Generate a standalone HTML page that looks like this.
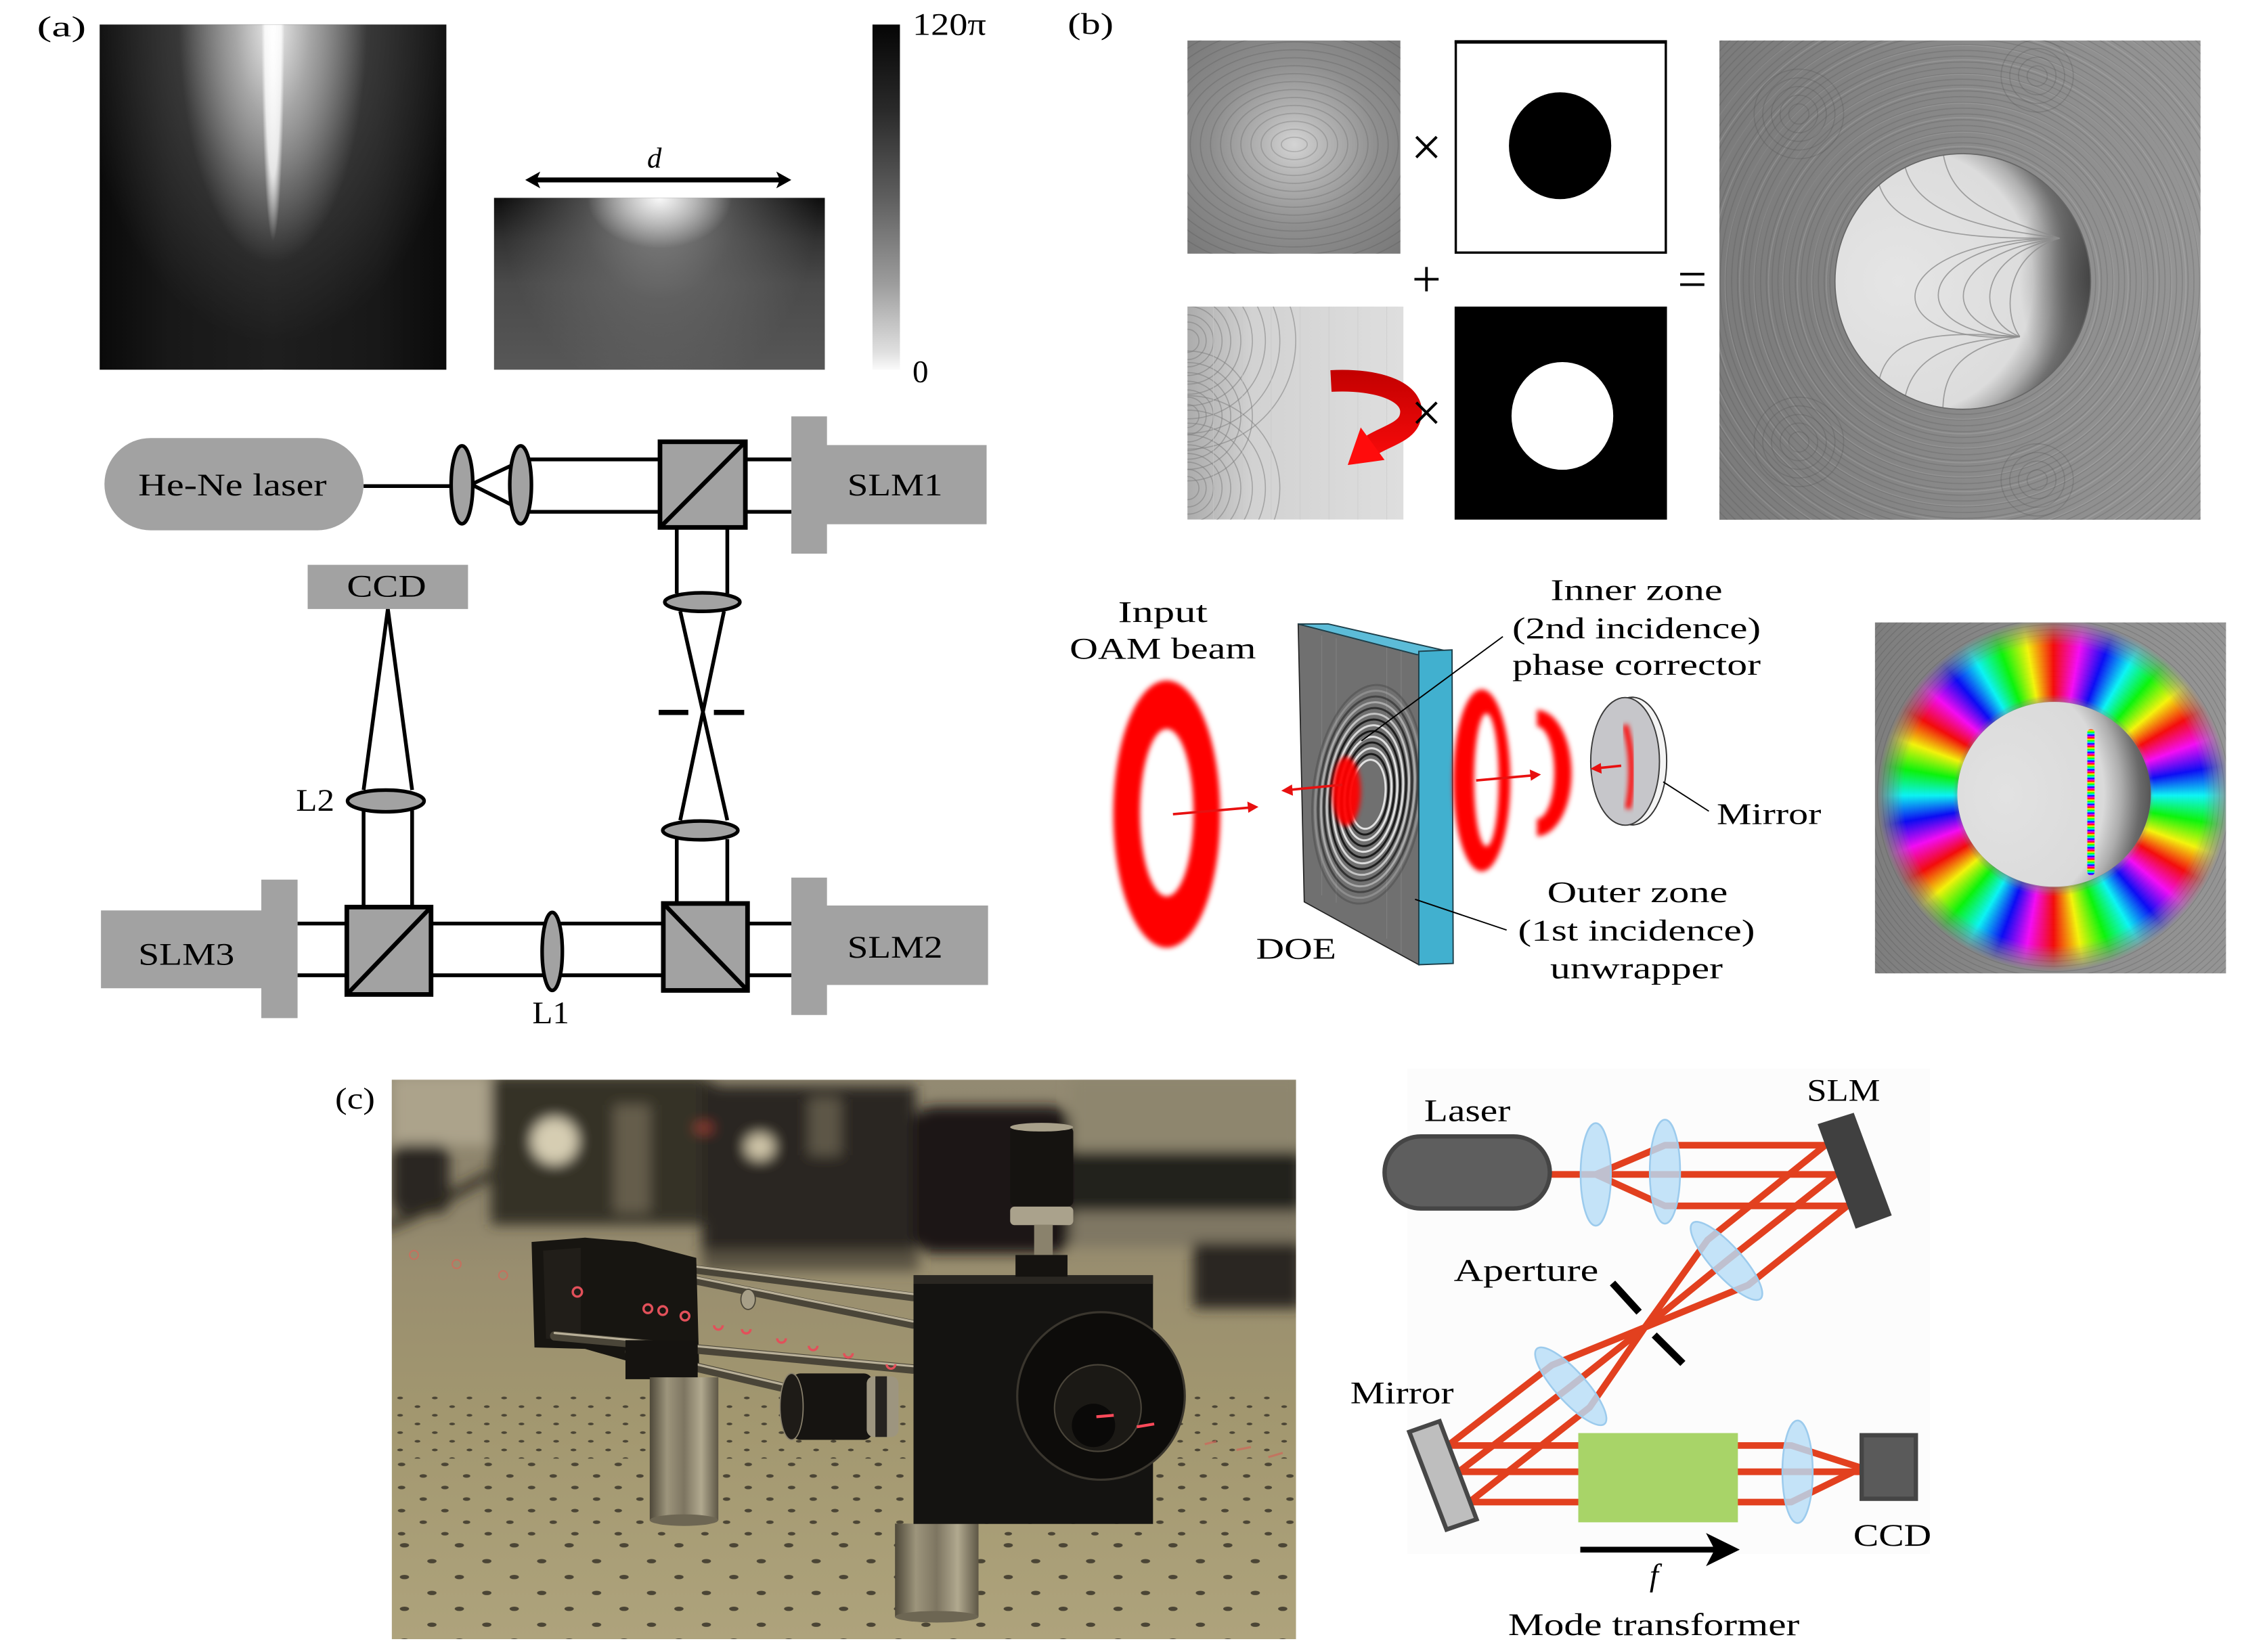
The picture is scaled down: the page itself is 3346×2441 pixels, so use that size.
<!DOCTYPE html>
<html><head><meta charset="utf-8">
<style>
html,body{margin:0;padding:0;background:#fff;}
body{width:3346px;height:2441px;overflow:hidden;position:relative;}
#r{position:absolute;left:0;top:0;width:1568px;height:1144px;transform:scale(2.13393);transform-origin:0 0;overflow:hidden;background:#fff;}
.a{position:absolute;}
svg text{font-family:"Liberation Serif","DejaVu Serif",serif;fill:#000;}
</style></head><body>
<div id="r">

<!-- (a) left phase image -->
<div class="a" style="left:69px;top:16.9px;width:240px;height:239.5px;background:
radial-gradient(ellipse 8px 150px at 50% 0%, rgba(255,255,255,1) 0%, rgba(255,255,255,.8) 70%, rgba(255,255,255,0) 100%),
radial-gradient(ellipse 65px 165px at 50% 0%, rgba(235,235,235,1) 0%, rgba(185,185,185,.8) 40%, rgba(150,150,150,0) 100%),
radial-gradient(ellipse 135px 220px at 50% 0%, rgba(115,115,115,.95) 0%, rgba(80,80,80,.55) 50%, rgba(40,40,40,0) 100%),
linear-gradient(to right,#0a0a0a 0%,#181818 20%,#1e1e1e 50%,#181818 80%,#0a0a0a 100%);"></div>

<!-- (a) right phase image -->
<div class="a" style="left:341.7px;top:136.6px;width:229.8px;height:119.8px;background:
radial-gradient(ellipse 50px 35px at 50% 0%, rgba(255,255,255,.95) 0%, rgba(230,230,230,.6) 50%, rgba(200,200,200,0) 100%),
radial-gradient(ellipse 110px 140px at 50% 0%, rgba(150,150,150,.9) 0%, rgba(110,110,110,.6) 50%, rgba(90,90,90,0) 100%),
linear-gradient(to bottom,#0e0e0e 0%,#333 25%,#4a4a4a 50%,#575757 100%);"></div>

<!-- colorbar -->
<div class="a" style="left:603.7px;top:17px;width:19.1px;height:239.4px;background:linear-gradient(to bottom,#050505 0%,#2a2a2a 25%,#5e5e5e 50%,#9c9c9c 75%,#e0e0e0 95%,#fafafa 100%);"></div>

<svg class="a" style="left:0;top:0" width="1568" height="1144" viewBox="0 0 1568 1144" xmlns="http://www.w3.org/2000/svg">
<defs>
  <clipPath id="cTL"><rect x="822" y="28" width="147.5" height="147.7"/></clipPath>
  <clipPath id="cBL"><rect x="822" y="212.3" width="149.6" height="147.5"/></clipPath>
  <clipPath id="cBig"><rect x="1190.3" y="28" width="333.1" height="331.9"/></clipPath>
  <clipPath id="cInner"><circle cx="1358.8" cy="194.9" r="88.5"/></clipPath>
  <clipPath id="cDoe"><polygon points="898.7,432.1 982.2,451 982.2,668 902.9,624.5"/></clipPath>
  <clipPath id="cPhoto"><rect x="271.2" y="747.6" width="626" height="387.4"/></clipPath>
  <radialGradient id="gTL" gradientUnits="userSpaceOnUse" cx="896" cy="100" r="115">
    <stop offset="0" stop-color="#d4d4d4"/><stop offset=".2" stop-color="#b4b4b4"/><stop offset=".5" stop-color="#8e8e8e"/><stop offset="1" stop-color="#747474"/>
  </radialGradient>
  <linearGradient id="gBL" x1="0" y1="0" x2="1" y2="0">
    <stop offset="0" stop-color="#acacac"/><stop offset=".3" stop-color="#d2d2d2"/><stop offset="1" stop-color="#dedede"/>
  </linearGradient>
  <linearGradient id="gBig" x1="0" y1="0" x2="1" y2="0">
    <stop offset="0" stop-color="#7b7b7b"/><stop offset=".6" stop-color="#8c8c8c"/><stop offset="1" stop-color="#959595"/>
  </linearGradient>
  <radialGradient id="gInner" cx=".25" cy=".5" r=".75">
    <stop offset="0" stop-color="#e5e5e5"/><stop offset=".7" stop-color="#dcdcdc"/><stop offset=".8" stop-color="#b0b0b0"/><stop offset=".9" stop-color="#707070"/><stop offset="1" stop-color="#4e4e4e"/>
  </radialGradient>
  <radialGradient id="gCres" gradientUnits="userSpaceOnUse" cx="1452" cy="192" r="60" gradientTransform="translate(1452 192) scale(0.9 1.5) translate(-1452 -192)">
    <stop offset="0" stop-color="#3e3e3e" stop-opacity=".95"/><stop offset=".5" stop-color="#5a5a5a" stop-opacity=".6"/><stop offset="1" stop-color="#777" stop-opacity="0"/>
  </radialGradient>
  <linearGradient id="gArrow" gradientUnits="userSpaceOnUse" x1="0" y1="256" x2="0" y2="325">
    <stop offset="0" stop-color="#c20000"/><stop offset="1" stop-color="#ff0c0c"/>
  </linearGradient>
  <filter id="fb" x="-30%" y="-30%" width="160%" height="160%"><feGaussianBlur stdDeviation="1.8"/></filter>
  <filter id="fbl" x="-10%" y="-10%" width="120%" height="120%"><feGaussianBlur stdDeviation="4.5"/></filter>
  <linearGradient id="gPhoto" x1="0" y1="0" x2="0" y2="1">
    <stop offset="0" stop-color="#938a72"/><stop offset=".2" stop-color="#8c836b"/><stop offset=".34" stop-color="#998e6f"/><stop offset=".6" stop-color="#a2976f"/><stop offset="1" stop-color="#aea37c"/>
  </linearGradient>
  <linearGradient id="gPost" x1="0" y1="0" x2="1" y2="0">
    <stop offset="0" stop-color="#4e4839"/><stop offset=".25" stop-color="#9d957c"/><stop offset=".5" stop-color="#7d7561"/><stop offset=".75" stop-color="#b1a98f"/><stop offset="1" stop-color="#5e5746"/>
  </linearGradient>
  <pattern id="h1" patternUnits="userSpaceOnUse" x="271" y="965" width="24" height="12">
    <ellipse cx="6" cy="3" rx="2" ry=".9" fill="#4b4535"/><ellipse cx="18" cy="9" rx="2" ry=".9" fill="#4b4535"/>
  </pattern>
  <pattern id="h2" patternUnits="userSpaceOnUse" x="271" y="1010" width="30" height="16">
    <ellipse cx="7" cy="4" rx="2.6" ry="1.2" fill="#4b4535"/><ellipse cx="22" cy="12" rx="2.6" ry="1.2" fill="#4b4535"/>
  </pattern>
  <pattern id="h3" patternUnits="userSpaceOnUse" x="271" y="1065" width="38" height="22">
    <ellipse cx="9" cy="5" rx="3.2" ry="1.5" fill="#4b4535"/><ellipse cx="28" cy="16" rx="3.2" ry="1.5" fill="#4b4535"/>
  </pattern>
</defs>

<!-- ================= (a) ================= -->
<text x="42.6" y="25" font-size="20" text-anchor="middle" textLength="34" lengthAdjust="spacingAndGlyphs">(a)</text>
<text x="631.7" y="24.2" font-size="22" textLength="51" lengthAdjust="spacingAndGlyphs">120π</text>
<text x="631.7" y="264.5" font-size="22">0</text>
<text x="453" y="116" font-size="20" font-style="italic" text-anchor="middle">d</text>
<line x1="371" y1="124.6" x2="540" y2="124.6" stroke="#000" stroke-width="3.4"/>
<polygon points="363.6,124.6 374,118.8 371.5,124.6 374,130.4" fill="#000"/>
<polygon points="547.8,124.6 537.4,118.8 539.9,124.6 537.4,130.4" fill="#000"/>

<!-- schematic lines -->
<g stroke="#000" stroke-width="2.6" fill="none">
  <path d="M251.7,336.6 H313"/>
  <path d="M326.3,335.4 L359,320 M326.3,335.4 L359,352"/>
  <path d="M366,318.1 H457 M366,354.4 H457"/>
  <path d="M516,318.1 H548 M516,354.4 H548"/>
  <path d="M468.5,365.2 V411 M503.5,365.2 V411"/>
  <path d="M470.9,423.2 L503.5,568 M501.2,423.2 L470.9,568"/>
  <path d="M468.5,581 V625.6 M503.5,581 V625.6"/>
  <path d="M517.5,639.5 H548 M517.5,675.3 H548"/>
  <path d="M298.4,639.5 H459.2 M298.4,675.3 H459.2"/>
  <path d="M206,639.5 H240.1 M206,675.3 H240.1"/>
  <path d="M251.7,628.1 V561 M285.3,628.1 V561"/>
  <path d="M251.7,547 L268.5,421.7 L285.3,547"/>
</g>
<path d="M456,493.3 H476.5 M494.2,493.3 H515.2" stroke="#000" stroke-width="3.6"/>

<!-- schematic shapes -->
<rect x="72.3" y="303.3" width="179.4" height="63.9" rx="32" ry="32" fill="#a2a2a2"/>
<rect x="213" y="391.1" width="111" height="30.6" fill="#a2a2a2"/>
<path d="M547.8,288.3 H572.5 V308.2 H683 V363 H572.5 V383.4 H547.8 Z" fill="#a2a2a2"/>
<path d="M547.8,607.7 H572.5 V627 H684 V682 H572.5 V702.8 H547.8 Z" fill="#a2a2a2"/>
<path d="M69.9,630.4 H180.9 V609.1 H206 V705 H180.9 V684.3 H69.9 Z" fill="#a2a2a2"/>
<g fill="#a2a2a2" stroke="#000" stroke-width="2.5">
  <ellipse cx="319.8" cy="335.7" rx="7.5" ry="27"/>
  <ellipse cx="360.4" cy="335.7" rx="7.5" ry="27"/>
  <ellipse cx="486.2" cy="416.9" rx="26" ry="6.4"/>
  <ellipse cx="484.8" cy="575" rx="26" ry="6.5"/>
  <ellipse cx="382.3" cy="658.8" rx="7" ry="27"/>
  <ellipse cx="267.1" cy="554.6" rx="26.5" ry="7.5"/>
</g>
<g fill="#a2a2a2" stroke="#000" stroke-width="3.2">
  <rect x="456.9" y="305.9" width="59.1" height="59.3"/>
  <rect x="459.2" y="625.6" width="58.3" height="60.2"/>
  <rect x="240.1" y="628.1" width="58.3" height="60.5"/>
</g>
<g stroke="#000" stroke-width="3">
  <line x1="456.9" y1="365.2" x2="516" y2="305.9"/>
  <line x1="459.2" y1="625.6" x2="517.5" y2="685.8"/>
  <line x1="240.1" y1="688.6" x2="298.4" y2="628.1"/>
</g>
<g font-size="22" text-anchor="middle">
  <text x="160.9" y="343" textLength="130.5" lengthAdjust="spacingAndGlyphs">He-Ne laser</text>
  <text x="619.6" y="343" textLength="66" lengthAdjust="spacingAndGlyphs">SLM1</text>
  <text x="267.6" y="413.2" textLength="55" lengthAdjust="spacingAndGlyphs">CCD</text>
  <text x="218.2" y="561.4" textLength="26.6" lengthAdjust="spacingAndGlyphs">L2</text>
  <text x="381.3" y="708.5" textLength="25.6" lengthAdjust="spacingAndGlyphs">L1</text>
  <text x="129" y="668" textLength="66.6" lengthAdjust="spacingAndGlyphs">SLM3</text>
  <text x="619.6" y="663" textLength="66" lengthAdjust="spacingAndGlyphs">SLM2</text>
</g>

<!-- ================= (b) top ================= -->
<text x="755" y="23.5" font-size="21" text-anchor="middle" textLength="31.7" lengthAdjust="spacingAndGlyphs">(b)</text>

<!-- TL image -->
<g clip-path="url(#cTL)">
  <rect x="822" y="28" width="147.5" height="147.7" fill="url(#gTL)"/>
  <g fill="none" stroke="#4a4a4a" stroke-opacity=".24" stroke-width=".8">
    <ellipse cx="896" cy="100" rx="9" ry="5"/><ellipse cx="896" cy="100" rx="16" ry="10.5"/>
    <ellipse cx="896" cy="100" rx="23" ry="16"/><ellipse cx="896" cy="100" rx="30" ry="21.5"/>
    <ellipse cx="896" cy="100" rx="37" ry="27"/><ellipse cx="896" cy="100" rx="44" ry="32.5"/>
    <ellipse cx="896" cy="100" rx="51" ry="38"/><ellipse cx="896" cy="100" rx="58" ry="43.5"/>
    <ellipse cx="896" cy="100" rx="65" ry="49"/><ellipse cx="896" cy="100" rx="72" ry="54.5"/>
    <ellipse cx="896" cy="100" rx="79" ry="60"/><ellipse cx="896" cy="100" rx="86" ry="65.5"/>
    <ellipse cx="896" cy="100" rx="93" ry="71"/><ellipse cx="896" cy="100" rx="100" ry="76.5"/>
    <ellipse cx="896" cy="100" rx="107" ry="82"/><ellipse cx="896" cy="100" rx="114" ry="87.5"/>
  </g>
</g>
<!-- TM mask -->
<rect x="1007.8" y="28.8" width="145.4" height="146.1" fill="#fff" stroke="#000" stroke-width="1.6"/>
<line x1="1007" y1="29" x2="1154" y2="29" stroke="#000" stroke-width="2.4"/>
<ellipse cx="1080" cy="100.9" rx="35.4" ry="37" fill="#000"/>
<!-- BL image -->
<g clip-path="url(#cBL)">
  <rect x="822" y="212.3" width="149.6" height="147.5" fill="url(#gBL)"/>
  <g fill="none" stroke="#7e7e7e" stroke-opacity=".55" stroke-width=".75">
    <path d="M822,228 A8,8 0 0 1 822,244 M822,223 A13,13 0 0 1 822,249 M822,218 A18,18 0 0 1 822,254 M822,212 A24,24 0 0 1 822,260 M822,206 A30,30 0 0 1 822,266 M822,199 A37,37 0 0 1 822,273 M822,191 A45,45 0 0 1 822,281 M822,182 A54,54 0 0 1 822,290 M822,172 A64,64 0 0 1 822,300 M822,161 A75,75 0 0 1 822,311"/>
    <path d="M822,280 A8,8 0 0 1 822,296 M822,275 A13,13 0 0 1 822,301 M822,270 A18,18 0 0 1 822,306 M822,264 A24,24 0 0 1 822,312 M822,258 A30,30 0 0 1 822,318 M822,251 A37,37 0 0 1 822,325 M822,243 A45,45 0 0 1 822,333"/>
    <path d="M822,330 A8,8 0 0 1 822,346 M822,325 A13,13 0 0 1 822,351 M822,320 A18,18 0 0 1 822,356 M822,314 A24,24 0 0 1 822,362 M822,308 A30,30 0 0 1 822,368 M822,301 A37,37 0 0 1 822,375 M822,293 A45,45 0 0 1 822,383 M822,284 A54,54 0 0 1 822,392 M822,274 A64,64 0 0 1 822,402"/>
  </g>
  <g stroke="#c8c8c8" stroke-width=".5" opacity=".6">
    <path d="M840,212 V360 M860,212 V360 M880,212 V360 M900,212 V360 M920,212 V360 M940,212 V360 M960,212 V360"/>
  </g>
</g>
<!-- red curved arrow -->
<path d="M921.4,263.8 C955,262 982,272 976,290 C973,299 960,302 950,308" fill="none" stroke="url(#gArrow)" stroke-width="15"/>
<polygon points="933,322 958.5,318.5 942,296" fill="#ff0c0c"/>
<!-- BM mask -->
<rect x="1007" y="212.3" width="147" height="147.5" fill="#000"/>
<ellipse cx="1081.6" cy="288" rx="35.2" ry="37.3" fill="#fff"/>
<!-- operators -->
<g text-anchor="middle">
  <text x="987.5" y="114.5" font-size="38">×</text>
  <text x="987.5" y="298.5" font-size="38">×</text>
  <text x="987.5" y="205.5" font-size="36">+</text>
  <text x="1171.5" y="205.5" font-size="36">=</text>
</g>
<!-- big image -->
<g clip-path="url(#cBig)">
  <rect x="1190.3" y="28" width="333.1" height="331.9" fill="url(#gBig)"/>
  <g fill="none" stroke="#4e4e4e" stroke-opacity=".22" stroke-width=".8">
    <circle cx="1358.8" cy="194.9" r="92"/><circle cx="1358.8" cy="194.9" r="96"/><circle cx="1358.8" cy="194.9" r="100"/><circle cx="1358.8" cy="194.9" r="104"/>
    <circle cx="1358.8" cy="194.9" r="108"/><circle cx="1358.8" cy="194.9" r="112"/><circle cx="1358.8" cy="194.9" r="116"/><circle cx="1358.8" cy="194.9" r="120"/>
    <circle cx="1358.8" cy="194.9" r="124"/><circle cx="1358.8" cy="194.9" r="128"/><circle cx="1358.8" cy="194.9" r="132"/><circle cx="1358.8" cy="194.9" r="136"/>
    <circle cx="1358.8" cy="194.9" r="140"/><circle cx="1358.8" cy="194.9" r="144"/><circle cx="1358.8" cy="194.9" r="148"/><circle cx="1358.8" cy="194.9" r="152"/>
    <circle cx="1358.8" cy="194.9" r="156"/><circle cx="1358.8" cy="194.9" r="160"/><circle cx="1358.8" cy="194.9" r="164"/><circle cx="1358.8" cy="194.9" r="168"/>
    <circle cx="1358.8" cy="194.9" r="172"/><circle cx="1358.8" cy="194.9" r="176"/><circle cx="1358.8" cy="194.9" r="180"/><circle cx="1358.8" cy="194.9" r="184"/>
    <circle cx="1358.8" cy="194.9" r="188"/><circle cx="1358.8" cy="194.9" r="192"/><circle cx="1358.8" cy="194.9" r="196"/><circle cx="1358.8" cy="194.9" r="200"/>
    <circle cx="1358.8" cy="194.9" r="204"/><circle cx="1358.8" cy="194.9" r="208"/><circle cx="1358.8" cy="194.9" r="212"/><circle cx="1358.8" cy="194.9" r="216"/>
    <circle cx="1358.8" cy="194.9" r="220"/><circle cx="1358.8" cy="194.9" r="224"/><circle cx="1358.8" cy="194.9" r="228"/><circle cx="1358.8" cy="194.9" r="232"/><circle cx="1358.8" cy="194.9" r="236"/>
  </g>
  <g fill="none" stroke="#d0d0d0" stroke-opacity=".18" stroke-width=".8">
    <circle cx="1358.8" cy="195.9" r="94.5"/><circle cx="1358.8" cy="195.9" r="104.5"/><circle cx="1358.8" cy="195.9" r="114.5"/><circle cx="1358.8" cy="195.9" r="124.5"/>
    <circle cx="1358.8" cy="195.9" r="134.5"/><circle cx="1358.8" cy="195.9" r="144.5"/><circle cx="1358.8" cy="195.9" r="154.5"/><circle cx="1358.8" cy="195.9" r="164.5"/>
    <circle cx="1358.8" cy="195.9" r="174.5"/><circle cx="1358.8" cy="195.9" r="184.5"/><circle cx="1358.8" cy="195.9" r="194.5"/><circle cx="1358.8" cy="195.9" r="204.5"/>
  </g>
  <g fill="none" stroke="#505050" stroke-opacity=".25" stroke-width=".8">
    <circle cx="1245.3" cy="78.9" r="7"/><circle cx="1245.3" cy="78.9" r="13"/><circle cx="1245.3" cy="78.9" r="19"/><circle cx="1245.3" cy="78.9" r="25"/><circle cx="1245.3" cy="78.9" r="31"/>
    <circle cx="1410.3" cy="52.6" r="7"/><circle cx="1410.3" cy="52.6" r="13"/><circle cx="1410.3" cy="52.6" r="19"/><circle cx="1410.3" cy="52.6" r="25"/>
    <circle cx="1245.3" cy="306" r="7"/><circle cx="1245.3" cy="306" r="13"/><circle cx="1245.3" cy="306" r="19"/><circle cx="1245.3" cy="306" r="25"/><circle cx="1245.3" cy="306" r="31"/>
    <circle cx="1410.3" cy="332.3" r="7"/><circle cx="1410.3" cy="332.3" r="13"/><circle cx="1410.3" cy="332.3" r="19"/><circle cx="1410.3" cy="332.3" r="25"/>
  </g>
  <circle cx="1358.8" cy="194.9" r="88.5" fill="url(#gInner)"/>
  <g clip-path="url(#cInner)">
    <rect x="1380" y="100" width="80" height="190" fill="url(#gCres)"/>
  </g>
  <g clip-path="url(#cInner)" fill="none" stroke="#8c8c8c" stroke-width=".8" stroke-opacity=".8">
    <path d="M1425.8,165 C1380,150 1350,140 1345,105"/>
    <path d="M1425.8,165 C1375,158 1325,150 1318,112"/>
    <path d="M1425.8,165 C1370,165 1310,165 1300,125"/>
    <path d="M1398.3,233.1 C1360,240 1345,255 1345,285"/>
    <path d="M1398.3,233.1 C1355,235 1322,245 1318,280"/>
    <path d="M1398.3,233.1 C1350,230 1305,228 1300,268"/>
    <path d="M1425.8,165 C1390,175 1385,215 1398.3,233.1"/>
    <path d="M1425.8,165 C1370,175 1365,220 1398.3,233.1"/>
    <path d="M1425.8,165 C1345,175 1340,225 1398.3,233.1"/>
    <path d="M1425.8,165 C1320,170 1318,232 1398.3,233.1"/>
    <path d="M1425.8,165 C1300,165 1295,240 1398.3,233.1"/>
  </g>
  <circle cx="1358.8" cy="194.9" r="88.5" fill="none" stroke="#666" stroke-width=".8"/>
</g>

<!-- ================= (b) middle ================= -->
<g font-size="21" text-anchor="middle">
  <text x="805" y="430.7" textLength="62" lengthAdjust="spacingAndGlyphs">Input</text>
  <text x="805" y="456" textLength="129" lengthAdjust="spacingAndGlyphs">OAM beam</text>
  <text x="1132.9" y="415.4" textLength="119" lengthAdjust="spacingAndGlyphs">Inner zone</text>
  <text x="1132.9" y="441.8" textLength="172" lengthAdjust="spacingAndGlyphs">(2nd incidence)</text>
  <text x="1132.9" y="467.2" textLength="172" lengthAdjust="spacingAndGlyphs">phase corrector</text>
  <text x="1224.6" y="570.5" textLength="72.4" lengthAdjust="spacingAndGlyphs">Mirror</text>
  <text x="1133.6" y="624.7" textLength="125" lengthAdjust="spacingAndGlyphs">Outer zone</text>
  <text x="1132.9" y="651.1" textLength="164" lengthAdjust="spacingAndGlyphs">(1st incidence)</text>
  <text x="1132.9" y="677.5" textLength="119.5" lengthAdjust="spacingAndGlyphs">unwrapper</text>
  <text x="897.3" y="663.7" textLength="55.5" lengthAdjust="spacingAndGlyphs">DOE</text>
</g>
<!-- red ring 1 -->
<path d="M770.7,563.7 a37,92.5 0 1,0 74,0 a37,92.5 0 1,0 -74,0 Z M789.2,562.7 a18.5,58 0 1,0 37,0 a18.5,58 0 1,0 -37,0 Z" fill="#ff0000" fill-rule="evenodd" filter="url(#fb)"/>
<!-- DOE -->
<polygon points="898.7,432.1 982.2,451 982.2,668 902.9,624.5" fill="#707070"/>
<g clip-path="url(#cDoe)" fill="none">
  <g stroke="#8c8c8c" stroke-width=".6" opacity=".5">
    <path d="M915,440 V620 M925,442 V625 M960,447 V650 M970,449 V660"/>
  </g>
  <g transform="rotate(6 947 550)" stroke-width="1.4" opacity=".9">
    <ellipse cx="947" cy="550" rx="12" ry="24" stroke="#eee"/><ellipse cx="947" cy="550" rx="14" ry="28" stroke="#111"/>
    <ellipse cx="947" cy="550" rx="16" ry="32" stroke="#eee"/><ellipse cx="947" cy="550" rx="18" ry="36" stroke="#111"/>
    <ellipse cx="947" cy="550" rx="20" ry="40" stroke="#eee"/><ellipse cx="947" cy="550" rx="22" ry="44" stroke="#111"/>
    <ellipse cx="947" cy="550" rx="24" ry="48" stroke="#e6e6e6"/><ellipse cx="947" cy="550" rx="26" ry="52" stroke="#151515"/>
    <ellipse cx="947" cy="550" rx="28" ry="56" stroke="#ddd" opacity=".85"/><ellipse cx="947" cy="550" rx="30" ry="60" stroke="#1a1a1a" opacity=".8"/>
    <ellipse cx="947" cy="550" rx="32" ry="64" stroke="#ccc" opacity=".7"/><ellipse cx="947" cy="550" rx="34" ry="68" stroke="#222" opacity=".6"/>
    <ellipse cx="947" cy="550" rx="36" ry="72" stroke="#bbb" opacity=".45"/><ellipse cx="947" cy="550" rx="38" ry="76" stroke="#333" opacity=".35"/>
  </g>
  <ellipse cx="932" cy="548" rx="10" ry="24" fill="#ff0000" stroke="none" filter="url(#fb)" opacity=".95"/>
</g>
<polygon points="898.7,432.1 982.2,451 982.2,668 902.9,624.5" fill="none" stroke="#222" stroke-width=".8"/>
<polygon points="898.7,432.1 919.3,432 1005.2,451.6 981,453.3" fill="#5cbcd8" stroke="#1d3f4a" stroke-width=".9"/>
<polygon points="982.2,451 1005.2,450 1006,667.1 982.2,668" fill="#41b0cf" stroke="#1d3f4a" stroke-width=".9"/>
<!-- ring 2 & arc 3 -->
<path d="M1006,540.4 a19.8,63 0 1,0 39.6,0 a19.8,63 0 1,0 -39.6,0 Z M1020.5,540 a8.5,46 0 1,0 17,0 a8.5,46 0 1,0 -17,0 Z" fill="#ff0000" fill-rule="evenodd" filter="url(#fb)"/>
<path d="M1064,491.6 A24,43.7 0 0 1 1064,579 L1064,567 A12,32 0 0 0 1064,503 Z" fill="#ff0000" filter="url(#fb)"/>
<!-- mirror (b) -->
<ellipse cx="1130" cy="527" rx="23.8" ry="44.2" fill="#f4f4f4" stroke="#333" stroke-width=".9"/>
<ellipse cx="1125" cy="527.2" rx="23.8" ry="44.2" fill="#c6c6ca" stroke="#3a3a3a" stroke-width=".9"/>
<path d="M1125,502 Q1133,530 1127,560" fill="none" stroke="#ff0000" stroke-width="4" filter="url(#fb)"/>
<!-- red arrows -->
<g stroke="#e81010" stroke-width="1.7" fill="none">
  <line x1="812" y1="563.8" x2="865" y2="559.2"/>
  <line x1="929.3" y1="543.4" x2="893" y2="546.9"/>
  <line x1="1021.9" y1="540.4" x2="1060" y2="537"/>
  <line x1="1122.3" y1="530.2" x2="1107" y2="531.8"/>
</g>
<g fill="#e81010">
  <polygon points="871.2,558.7 863.5,555 864.2,562.8"/>
  <polygon points="887,547.5 894.4,543.2 895.1,551"/>
  <polygon points="1066.8,536.3 1059,532.8 1059.8,540.6"/>
  <polygon points="1101,532.3 1108.2,528.3 1108.8,535.7"/>
</g>
<!-- leaders -->
<g stroke="#000" stroke-width=".9">
  <line x1="1040.4" y1="440.8" x2="942.5" y2="513"/>
  <line x1="1043" y1="644" x2="979.6" y2="622.7"/>
  <line x1="1151.4" y1="541.4" x2="1183" y2="561.7"/>
</g>

<!-- ================= (c) ================= -->
<text x="245.8" y="767.6" font-size="21" text-anchor="middle" textLength="27.6" lengthAdjust="spacingAndGlyphs">(c)</text>

<!-- photo -->
<g clip-path="url(#cPhoto)">
  <rect x="271.2" y="747.6" width="626" height="387.4" fill="url(#gPhoto)"/>
  <g filter="url(#fbl)">
    <rect x="271" y="745" width="70" height="48" fill="#aca38b"/>
    <rect x="271" y="792" width="40" height="48" rx="8" fill="#2c2820"/>
    <path d="M265,850 C300,838 330,815 370,800 C410,786 450,770 495,750" stroke="#2a261e" stroke-width="6" fill="none"/>
    <rect x="340" y="745" width="148" height="103" fill="#353026"/>
    <ellipse cx="384" cy="790" rx="16" ry="16" fill="#d6cdb2"/>
    <rect x="425" y="765" width="25" height="75" fill="#655d4b"/>
    <rect x="486" y="752" width="148" height="115" fill="#2c2821"/>
    <ellipse cx="526" cy="794" rx="10" ry="9" fill="#cfc5a8"/>
    <rect x="560" y="760" width="22" height="40" fill="#5d5646"/>
    <rect x="632" y="766" width="110" height="102" rx="15" fill="#1c1915"/>
    <rect x="741" y="745" width="160" height="53" fill="#8e866e"/>
    <rect x="741" y="797" width="160" height="42" fill="#24211b"/>
    <rect x="741" y="839" width="160" height="24" fill="#7f7763"/>
    <rect x="826" y="860" width="75" height="46" fill="#2a2621"/>
    <rect x="486" y="866" width="150" height="14" fill="#5a5343"/>
    <ellipse cx="487" cy="781" rx="6" ry="2" fill="#c24a40"/>
  </g>
  <rect x="271" y="965" width="626" height="45" fill="url(#h1)"/>
  <rect x="271" y="1010" width="626" height="55" fill="url(#h2)"/>
  <rect x="271" y="1065" width="626" height="70" fill="url(#h3)"/>
  <!-- rods -->
  <g stroke-linecap="round">
    <line x1="379" y1="866" x2="632" y2="898" stroke="#4a4538" stroke-width="6"/>
    <line x1="379" y1="864" x2="632" y2="896" stroke="#b9b099" stroke-width="1.5"/>
    <line x1="420" y1="874" x2="632" y2="917" stroke="#4a4538" stroke-width="6"/>
    <line x1="420" y1="872" x2="632" y2="915" stroke="#b9b099" stroke-width="1.5"/>
  </g>
  <polygon points="368,860 405,857 440,860 482,871 484,946 440,944 405,934 370,933" fill="#171511"/>
  <polygon points="376,866 402,864 402,928 378,927" fill="#211e19"/>
  <g stroke-linecap="round">
    <line x1="384" y1="925" x2="632" y2="948" stroke="#4a4538" stroke-width="6.5"/>
    <line x1="384" y1="923" x2="632" y2="946" stroke="#b9b099" stroke-width="1.5"/>
    <line x1="436" y1="936" x2="548" y2="962" stroke="#4a4538" stroke-width="6.5"/>
    <line x1="436" y1="934" x2="548" y2="960" stroke="#b9b099" stroke-width="1.5"/>
  </g>
  <ellipse cx="517.9" cy="899.7" rx="5" ry="7" fill="#a79f88" stroke="#4a4538" stroke-width=".8"/>
  <rect x="433" y="928" width="50" height="27" fill="#151310"/>
  <rect x="449.8" y="953.7" width="47.5" height="98.9" fill="url(#gPost)"/>
  <ellipse cx="473.5" cy="1052.6" rx="23.7" ry="4" fill="#6d6653"/>
  <g fill="none" stroke="#e2505a" stroke-width="1.6">
    <circle cx="399.7" cy="894.6" r="3.2"/><circle cx="448.5" cy="906.2" r="3"/><circle cx="458.8" cy="907.5" r="3"/><circle cx="474.2" cy="911.3" r="3"/>
    <path d="M494.3,917.7 A3,3 0 0 0 500.3,917.7 M513.6,920.3 A3,3 0 0 0 519.6,920.3 M538,926.7 A3,3 0 0 0 544,926.7 M559.9,931.9 A3,3 0 0 0 565.9,931.9 M584.3,937 A3,3 0 0 0 590.3,937 M613.8,944.7 A3,3 0 0 0 619.8,944.7"/>
  </g>
  <g fill="none" stroke="#cf6a5a" stroke-width="1" opacity=".8">
    <circle cx="286.6" cy="868.9" r="3"/><circle cx="316.1" cy="875.3" r="3"/><circle cx="348.3" cy="883" r="3"/>
  </g>
  <!-- knob -->
  <rect x="548" y="951" width="56" height="46" rx="6" fill="#161411"/>
  <rect x="600" y="953" width="22" height="42" rx="5" fill="#9d957f"/>
  <rect x="606" y="953" width="8" height="42" fill="#262320"/>
  <ellipse cx="548" cy="974" rx="8" ry="23" fill="#1e1b17" stroke="#8a826e" stroke-width=".8"/>
  <!-- post 2 -->
  <rect x="619.6" y="1055" width="57.8" height="64.5" fill="url(#gPost)"/>
  <ellipse cx="648.5" cy="1119.5" rx="28.9" ry="4" fill="#6d6653"/>
  <!-- mount 2 -->
  <rect x="632.4" y="883" width="165.8" height="172.2" fill="#141311"/>
  <rect x="632.4" y="883" width="165.8" height="6" fill="#2a2722"/>
  <circle cx="762.2" cy="966.6" r="58" fill="#0d0c0a" stroke="#3a362e" stroke-width="1.5"/>
  <circle cx="760" cy="975" r="30" fill="#1b1915" stroke="#4a453a" stroke-width="1"/>
  <circle cx="757" cy="987" r="15" fill="#0a0908"/>
  <line x1="759" y1="981" x2="771" y2="980" stroke="#ff4a5a" stroke-width="2"/>
  <line x1="787" y1="988" x2="799" y2="986" stroke="#ff4a5a" stroke-width="2"/>
  <!-- micrometer -->
  <rect x="699.3" y="780" width="43.7" height="55.5" rx="4" fill="#151310"/>
  <ellipse cx="721.1" cy="780.5" rx="21.8" ry="3" fill="#a8a08a"/>
  <rect x="699.3" y="835.5" width="43.7" height="12.8" rx="3" fill="#aaa28c"/>
  <rect x="715.9" y="848" width="12.9" height="21" fill="#8a826c"/>
  <rect x="703" y="869" width="36" height="15" fill="#151310"/>
  <g stroke="#d0665a" stroke-width="1.5" opacity=".7">
    <line x1="834" y1="1000" x2="842" y2="998"/><line x1="856" y1="1004" x2="866" y2="1002"/><line x1="878" y1="1009" x2="888" y2="1006"/>
  </g>
</g>

<!-- (c) schematic -->
<rect x="974" y="740" width="362" height="336" fill="#fcfcfc"/>
<g stroke="#e2401f" stroke-width="4.6" fill="none" stroke-linejoin="round">
  <path d="M1072.9,813.2 H1270.9"/>
  <path d="M1104.7,813.2 L1152.6,793 H1263.6"/>
  <path d="M1104.7,813.2 L1152.6,835 H1278.9"/>
  <path d="M1263.6,793 L1182.1,858.6 L1138.7,919.1 L1100.5,974.5 L1017.2,1040.1 H1240 L1288.6,1016.4"/>
  <path d="M1270.9,813.2 L1195.2,873.1 L1138.7,919.1 L1087.4,959.9 L1009.8,1019.1 H1288.6"/>
  <path d="M1278.9,835 L1210.3,889.8 L1138.7,919.1 L1074.3,945.3 L1002.4,1000.9 H1240 L1288.6,1016.4"/>
</g>
<rect x="958.5" y="786.9" width="114.4" height="49.9" rx="25" ry="25" fill="#5e5e5e" stroke="#454545" stroke-width="3"/>
<polygon points="1258.3,778.4 1283.3,770.5 1309.6,841.6 1284.6,850.8" fill="#404040"/>
<polygon points="975.6,991.5 996.6,984.1 1022.2,1052 1001.4,1059.1" fill="#bebebe" stroke="#474747" stroke-width="3"/>
<rect x="1092.6" y="992.3" width="110.5" height="61.8" fill="#a8d468"/>
<rect x="1288.8" y="993.8" width="37.5" height="44" fill="#5a5a5a" stroke="#454545" stroke-width="3"/>
<g fill="#b7ddf7" fill-opacity=".82" stroke="#9ccbed" stroke-width="1.2">
  <ellipse cx="1104.7" cy="813.2" rx="10.5" ry="35.5"/>
  <ellipse cx="1152.6" cy="811.3" rx="10.5" ry="36"/>
  <ellipse cx="1195.2" cy="873.1" rx="35.2" ry="10.5" transform="rotate(48 1195.2 873.1)"/>
  <ellipse cx="1087.4" cy="959.9" rx="35" ry="10.5" transform="rotate(48 1087.4 959.9)"/>
  <ellipse cx="1244.4" cy="1019.1" rx="10.5" ry="35.5"/>
</g>
<g stroke="#000" stroke-width="5">
  <line x1="1116.3" y1="888.4" x2="1134.7" y2="908.6"/>
  <line x1="1145.2" y1="924.4" x2="1165" y2="944.1"/>
</g>
<line x1="1094" y1="1073" x2="1192" y2="1073" stroke="#000" stroke-width="4"/>
<polygon points="1204.4,1073 1181,1061.5 1187,1073 1181,1084.5" fill="#000"/>
<g font-size="22" text-anchor="middle">
  <text x="1015.8" y="776.3" textLength="59.7" lengthAdjust="spacingAndGlyphs">Laser</text>
  <text x="1276.2" y="762.1" textLength="50.7" lengthAdjust="spacingAndGlyphs">SLM</text>
  <text x="1056.5" y="886.8" textLength="100.2" lengthAdjust="spacingAndGlyphs">Aperture</text>
  <text x="970.6" y="971.7" textLength="71.6" lengthAdjust="spacingAndGlyphs">Mirror</text>
  <text x="1310" y="1070.4" textLength="54" lengthAdjust="spacingAndGlyphs">CCD</text>
  <text x="1145" y="1098" font-style="italic">f</text>
  <text x="1144.9" y="1132.2" textLength="201.7" lengthAdjust="spacingAndGlyphs">Mode transformer</text>
</g>
</svg>

<!-- rainbow OAM image -->
<div class="a" style="left:1298.4px;top:430.7px;width:242.6px;height:243.8px;overflow:hidden;background:linear-gradient(to right,#7e7e7e,#8e8e8e 60%,#959595);">
  <div class="a" style="left:0;top:0;width:242.6px;height:243.8px;background:repeating-radial-gradient(circle at 123.6px 119.8px, rgba(0,0,0,0) 0px, rgba(0,0,0,0) 2.6px, rgba(60,60,60,.28) 3.1px, rgba(0,0,0,0) 3.6px);"></div>
  <div class="a" style="left:0;top:0;width:242.6px;height:243.8px;opacity:.9;background:repeating-conic-gradient(from 0deg at 123.6px 119.8px, #ff0000 0deg, #ff00ff 10deg, #0000ff 20deg, #00ffff 30deg, #00ff00 40deg, #ffff00 50deg, #ff0000 60deg);-webkit-mask-image:radial-gradient(circle at 123.6px 119.8px, rgba(0,0,0,0) 60px, #000 70px, #000 104px, rgba(0,0,0,0) 122px);mask-image:radial-gradient(circle at 123.6px 119.8px, rgba(0,0,0,0) 60px, #000 70px, #000 104px, rgba(0,0,0,0) 122px);"></div>
  <div class="a" style="left:56.6px;top:55.8px;width:134px;height:128px;border-radius:50%;background:radial-gradient(ellipse 100px 120px at 25% 50%, #e2e2e2 0%, #dadada 68%, #adadad 80%, #6a6a6a 93%, #575757 100%);"></div>
  <div class="a" style="left:146.6px;top:74.1px;width:5px;height:101.6px;border-radius:2px;background:repeating-linear-gradient(to bottom,#ff0000 0px,#ffff00 1px,#00ff00 2px,#00ffff 3px,#0000ff 4px,#ff00ff 5px,#ff0000 6px);"></div>
</div>

</div>
</body></html>
